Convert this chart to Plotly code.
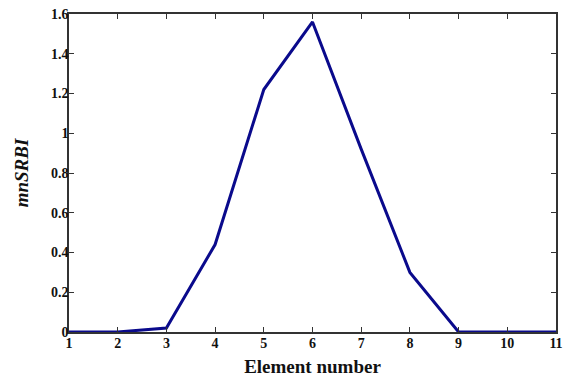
import plotly.graph_objects as go

element_number = [1, 2, 3, 4, 5, 6, 7, 8, 9, 10, 11]
mnsrbi = [0.0, 0.0, 0.02, 0.44, 1.22, 1.56, 0.92, 0.30, 0.0, 0.0, 0.0]

x_ticks = list(range(1, 12))
y_ticks = [0, 0.2, 0.4, 0.6, 0.8, 1.0, 1.2, 1.4, 1.6]
y_labels = ["0", "0.2", "0.4", "0.6", "0.8", "1", "1.2", "1.4", "1.6"]

fig = go.Figure()
fig.add_trace(go.Scatter(
    x=element_number, y=mnsrbi, mode="lines",
    line=dict(color="#0a0a8c", width=3),
    showlegend=False,
))

font_family = "Liberation Serif"
axis_common = dict(
    showline=True, linecolor="#333333", linewidth=1.5, mirror="ticks",
    ticks="inside", ticklen=5, tickcolor="#333333", tickwidth=1,
    showgrid=False, zeroline=False, automargin=False,
    tickfont=dict(family=font_family, size=14, color="#111111"),
)

fig.update_xaxes(
    range=[1, 11], tickvals=x_ticks, ticktext=[f"<b>{t}</b>" for t in x_ticks],
    ticklabelstandoff=-3,
    title=dict(text="<b>Element number</b>", font=dict(family=font_family, size=19, color="#111111"), standoff=10),
    **axis_common,
)
fig.update_yaxes(
    range=[0, 1.6], tickvals=y_ticks, ticktext=[f"<b>{t}</b>" for t in y_labels],
    ticklabelstandoff=-4,
    title=dict(text="<b><i>mnSRBI</i></b>", font=dict(family=font_family, size=19, color="#111111"), standoff=17),
    **axis_common,
)

fig.update_layout(
    width=565, height=381,
    margin=dict(l=69, r=9, t=14, b=49),
    plot_bgcolor="white", paper_bgcolor="white",
)

# remove the default page body margin so the figure sits at the window's top-left
fig.write_html("out.html", config={"displayModeBar": False},
               post_script="document.body.style.margin='0';")
